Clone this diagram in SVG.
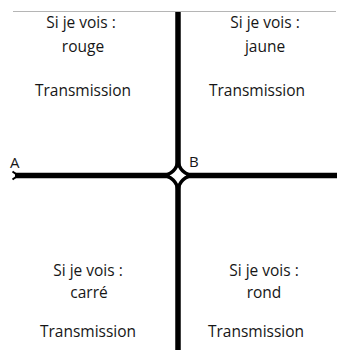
<svg xmlns="http://www.w3.org/2000/svg" width="337" height="350" viewBox="0 0 337 350">
<style>
text{font-family:"Open Sans","Liberation Sans",Arial,sans-serif;font-size:15.5px;fill:#161616;text-anchor:middle}
.lbl{font-size:15px;text-anchor:start}
.road{stroke:#000;stroke-width:5.5;fill:none}
</style>
<rect width="337" height="350" fill="#fff"/>
<line x1="13" y1="11.5" x2="336" y2="11.5" stroke="#b5b5b5" stroke-width="1"/>
<g id="connectors">
<line class="road" x1="178" y1="12" x2="178" y2="350"/>
<line class="road" x1="15" y1="175.5" x2="337" y2="175.5"/>
<path d="M12.5,171.5 L18,175.5 L12.5,179.5" fill="none" stroke="#000" stroke-width="2"/>
<path d="M178,160 A16,16 0 0 0 194,175.5 A16,16 0 0 0 178,191 A16,16 0 0 0 162,175.5 A16,16 0 0 0 178,160 Z" fill="#fff" stroke="#000" stroke-width="3.5"/>
</g>
<g id="label-A"><text class="lbl" x="10" y="168">A</text></g>
<g id="label-B"><text class="lbl" x="189" y="167">B</text></g>
<g id="q-rouge">
<text x="81" y="28">Si je vois :</text>
<text x="83" y="52">rouge</text>
<text x="83" y="96">Transmission</text>
</g>
<g id="q-jaune">
<text x="265" y="28">Si je vois :</text>
<text x="265" y="52">jaune</text>
<text x="257" y="96">Transmission</text>
</g>
<g id="q-carre">
<text x="88" y="276">Si je vois :</text>
<text x="89" y="298">carré</text>
<text x="88" y="337">Transmission</text>
</g>
<g id="q-rond">
<text x="264" y="276">Si je vois :</text>
<text x="264" y="298">rond</text>
<text x="256" y="337">Transmission</text>
</g>
</svg>
